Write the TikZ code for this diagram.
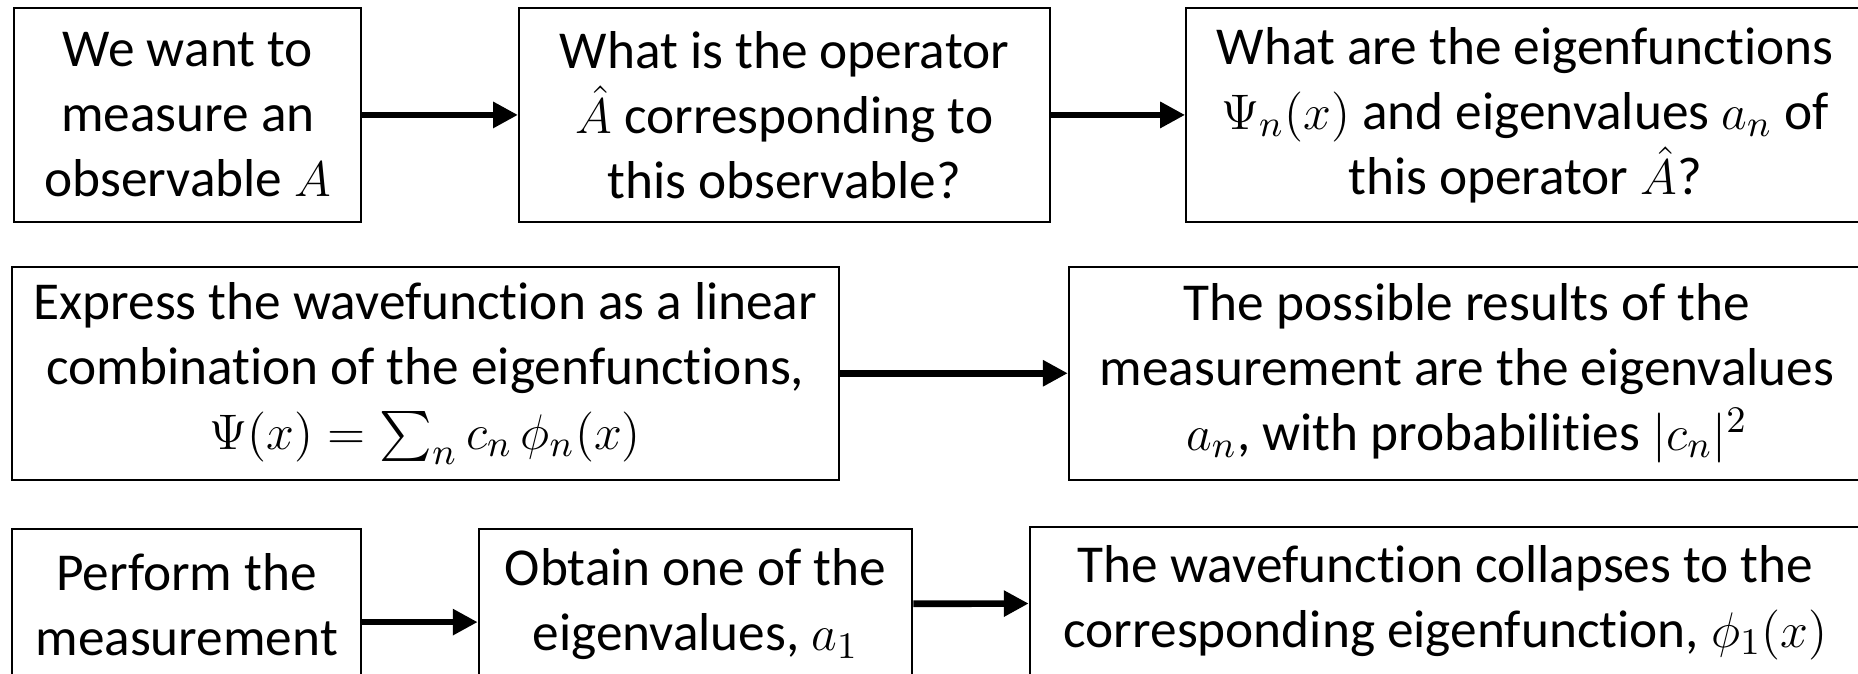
\documentclass[tikz,border=0pt]{standalone}
\usepackage{amsmath}
\usepackage{fontspec}
\setmainfont[Ligatures=NoCommon]{Carlito}
\usetikzlibrary{arrows.meta}

\tikzset{
	stepbox/.style={draw,line width=0.5pt,align=center,inner sep=0pt,minimum height=18mm,font=\fontsize{12.8}{15.6}\selectfont},
	shortbox/.style={stepbox,minimum height=12.7mm},
	arr/.style={line width=1.6pt,-{Triangle[length=2.1mm,width=2.1mm]}}
}

\begin{document}
\begin{tikzpicture}[x=0.1mm,y=-0.1mm]
	\clip (0,0) rectangle (1568,568);

	% first row
	\node[stepbox,minimum width=29.3mm] (Q1) at (158.5,97) {We want to\\measure an\\observable $A$};
	\node[stepbox,minimum width=44.8mm] (Q2) at (662,97) {What is the operator\\$\hat{A}$ corresponding to\\this observable?};
	\node[stepbox,minimum width=57.2mm] (Q3) at (1287,97) {What are the eigenfunctions\\$\Psi_n(x)$ and eigenvalues $a_n$ of\\this operator $\hat{A}$?};

	% second row
	\node[stepbox,minimum width=69.8mm] (E1) at (359,315) {Express the wavefunction as a linear\\combination of the eigenfunctions,\\$\Psi(x)=\sum_n c_n\,\phi_n(x)$};
	\node[stepbox,minimum width=67.2mm] (E2) at (1238,315) {The possible results of the\\measurement are the eigenvalues\\$a_n$, with probabilities $|c_n|^2$};

	% third row
	\node[shortbox,minimum width=29.5mm] (M1) at (157.5,510) {Perform the\\measurement};
	\node[shortbox,minimum width=36.6mm] (M2) at (587,510) {Obtain one of the\\eigenvalues, $a_1$};
	\node[shortbox,minimum width=70.2mm] (M3) at (1220,508.5) {The wavefunction collapses to the\\corresponding eigenfunction, $\phi_1(x)$};

	\draw [arr] (Q1) -- (Q2);
	\draw [arr] (Q2) -- (Q3);
	\draw [arr] (E1) -- (E2);
	\draw [arr] ([yshift=-1.5mm]M1.east) -- ([yshift=-1.5mm]M2.west);
	\draw [arr] (M2) -- (M3);
\end{tikzpicture}
\end{document}
